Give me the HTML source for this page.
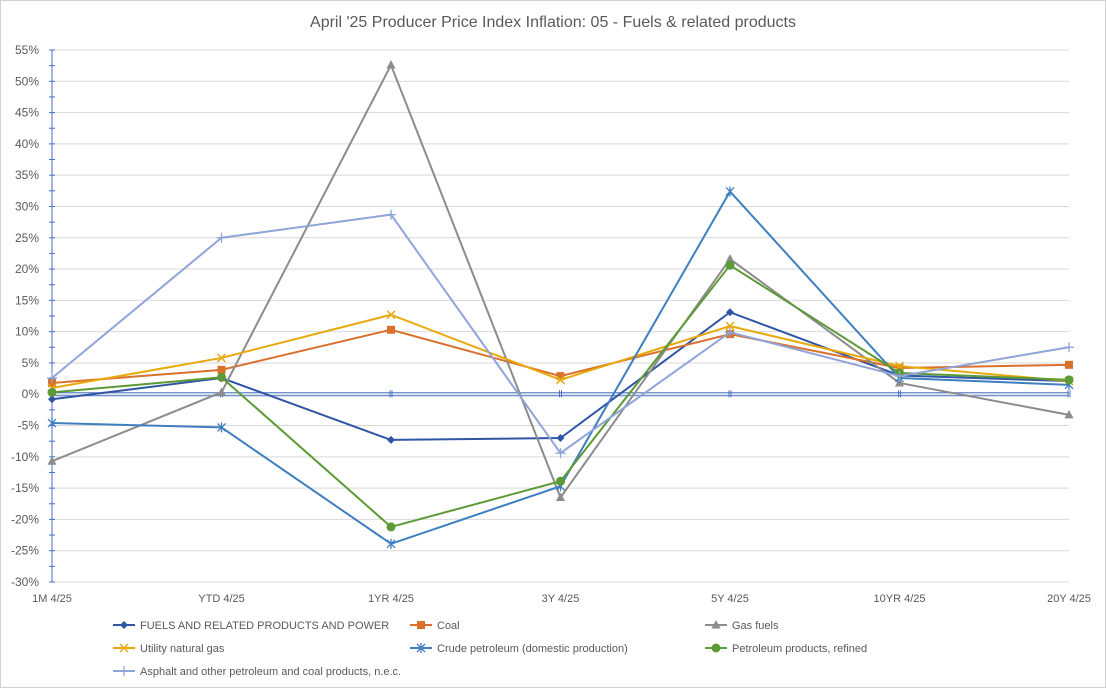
<!DOCTYPE html>
<html><head><meta charset="utf-8"><style>
html,body{margin:0;padding:0;background:#fff;}
svg{display:block;font-family:"Liberation Sans",sans-serif;}
</style></head><body>
<svg id="chart" width="1106" height="688">
<rect x="0.5" y="0.5" width="1105" height="687" fill="#fff" stroke="#d0d0d0"/>
<text x="553" y="27" text-anchor="middle" font-size="16" fill="#595959">April '25 Producer Price Index Inflation: 05 - Fuels &amp; related products</text>
<g id="grid"></g><g id="axes"></g><g id="series"></g><g id="legend"></g>
</svg>
<script>
const categories=["1M 4/25","YTD  4/25","1YR 4/25","3Y 4/25","5Y 4/25","10YR  4/25","20Y 4/25"];
const yTicks=[55,50,45,40,35,30,25,20,15,10,5,0,-5,-10,-15,-20,-25,-30];
const seriesNames=["FUELS AND RELATED PRODUCTS AND POWER","Coal","Gas fuels","Utility natural gas","Crude petroleum (domestic production)","Petroleum products, refined","Asphalt and other petroleum and coal products, n.e.c."];
const fuels=[-0.8,2.6,-7.3,-7.0,13.1,3.0,2.1];
const coal=[1.8,3.9,10.3,2.9,9.6,4.2,4.7];
const gasFuels=[-10.7,0.3,52.6,-16.5,21.6,1.8,-3.3];
const utilityGas=[1.0,5.8,12.7,2.3,10.9,4.5,2.1];
const crude=[-4.6,-5.3,-23.9,-14.7,32.4,2.6,1.5];
const refined=[0.3,2.7,-21.2,-13.9,20.6,3.4,2.3];
const asphalt=[2.6,25.0,28.7,-9.4,9.9,2.9,7.5];
const NS="http://www.w3.org/2000/svg";
const X0=52,X1=1069,Y0=50,Y1=582,VMAX=55,VMIN=-30;
function xs(i){return X0+(X1-X0)*i/(categories.length-1);}
function ys(v){return Y0+(VMAX-v)*(Y1-Y0)/(VMAX-VMIN);}
function mk(tag,attrs,parent){const e=document.createElementNS(NS,tag);for(const k in attrs)e.setAttribute(k,attrs[k]);parent.appendChild(e);return e;}
const grid=document.getElementById('grid'),axes=document.getElementById('axes'),ser=document.getElementById('series'),leg=document.getElementById('legend');
yTicks.forEach(t=>{
 const y=ys(t);
 const l=mk('line',{x1:X0,x2:X1,y1:y,y2:y,stroke:'#d9d9d9','stroke-width':1},grid);
 
 
 const tx=mk('text',{x:39,y:y+4,'text-anchor':'end','font-size':12,fill:'#595959'},axes);
 tx.textContent=t+'%';
 
 
 for(let m=0;m<2;m++){const yy=ys(t)+m*2.5*(Y1-Y0)/(VMAX-VMIN);if(yy<=Y1)mk('line',{x1:X0-3,x2:X0+3,y1:yy,y2:yy,stroke:'#4472c4','stroke-width':1},axes);}
});
const ya=mk('line',{x1:X0,x2:X0,y1:Y0,y2:Y1,stroke:'#4472c4','stroke-width':1},axes);


const z=ys(0);
[z-1.5,z+1.5].forEach(yy=>{const a=mk('line',{x1:X0,x2:X1,y1:yy,y2:yy,stroke:'#4472c4','stroke-width':1},axes);

});
categories.forEach((c,i)=>{
 mk('line',{x1:xs(i)-1,x2:xs(i)-1,y1:z-4,y2:z+3,stroke:'#4472c4'},axes);
 mk('line',{x1:xs(i)+1,x2:xs(i)+1,y1:z-4,y2:z+3,stroke:'#4472c4'},axes);
 const t=mk('text',{x:xs(i),y:602,'text-anchor':'middle','font-size':11,fill:'#595959'},axes);
 t.textContent=c;
 
 
});
const allData=[fuels,coal,gasFuels,utilityGas,crude,refined,asphalt];
const colors=['#2f55a4','#d9702c','#8c8c8c','#e8a90c','#3f7fc0','#5b9a35','#8fa4d9'];
const markers=['diamond','square','triangle','x','star','circle','plus'];
function marker(type,x,y,c,p){
 if(type==='diamond')mk('polygon',{points:`${x},${y-4} ${x+4},${y} ${x},${y+4} ${x-4},${y}`,fill:c},p);
 else if(type==='square')mk('rect',{x:x-4,y:y-4,width:8,height:8,fill:c},p);
 else if(type==='triangle')mk('polygon',{points:`${x},${y-5} ${x+4.5},${y+3.5} ${x-4.5},${y+3.5}`,fill:c},p);
 else if(type==='circle')mk('circle',{cx:x,cy:y,r:4.5,fill:c},p);
 else if(type==='x'){mk('path',{d:`M${x-4} ${y-4}L${x+4} ${y+4}M${x-4} ${y+4}L${x+4} ${y-4}`,stroke:c,'stroke-width':1.5},p);}
 else if(type==='star'){mk('path',{d:`M${x-4} ${y-4}L${x+4} ${y+4}M${x-4} ${y+4}L${x+4} ${y-4}M${x} ${y-5}L${x} ${y+5}`,stroke:c,'stroke-width':1.3},p);}
 else if(type==='plus'){mk('path',{d:`M${x-5} ${y}L${x+5} ${y}M${x} ${y-5}L${x} ${y+5}`,stroke:c,'stroke-width':1.3},p);}
}
allData.forEach((d,s)=>{
 const g=mk('g',{},ser);
 
 
 const pl=mk('polyline',{points:d.map((v,i)=>xs(i)+','+ys(v)).join(' '),fill:'none',stroke:colors[s],'stroke-width':2},g);
 
 
 d.forEach((v,i)=>marker(markers[s],xs(i),ys(v),colors[s],g));
});
const lx=[113,410,705],lyr=[625,648,671];
seriesNames.forEach((n,s)=>{
 const x=lx[s%3],y=lyr[Math.floor(s/3)];
 const g=mk('g',{},leg);
 
 
 mk('line',{x1:x,x2:x+22,y1:y,y2:y,stroke:colors[s],'stroke-width':2},g);
 marker(markers[s],x+11,y,colors[s],g);
 const t=mk('text',{x:x+27,y:y+4,'font-size':11,fill:'#595959'},g);
 t.textContent=n;
});
</script>
</body></html>
